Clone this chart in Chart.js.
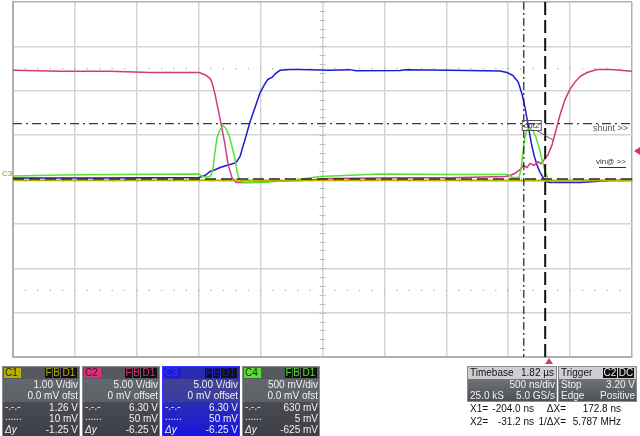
<!DOCTYPE html>
<html>
<head>
<meta charset="utf-8">
<script src="https://cdn.jsdelivr.net/npm/chart.js@4.4.0/dist/chart.umd.min.js"></script>
<style>
  html, body { margin: 0; padding: 0; background: #fff; }
</style>
</head>
<body>
<canvas id="scope" width="640" height="436"></canvas>
<script>
// time axis in ns relative to trigger, 500 ns/div, 10 div on screen
const X_MIN = -4330
const X_MAX = 670
const NS_PER_DIV = 500

// C1 yellow, 1 V/div
const c1Time = [-4330, -3500, -2800, -2500, -1800, -900, -300, 0, 300, 670]
const c1Volts = [-0.02, -0.02, -0.02, -0.03, -0.02, -0.02, -0.03, -0.03, -0.02, -0.02]

// C2 pink, 5 V/div
const c2Time = [-4330, -3950, -3546, -3223, -2827, -2779, -2738, -2722, -2698, -2657, -2617, -2593, -2561, -2528,
  -2415, -2254, -2011, -1769, -1204, -800, -355, -315, -275, -234, -210, -178, -153, -121, -89, -65, -32, -8,
  24, 57, 89, 129, 170, 210, 250, 307, 388, 493, 574, 670]
const c2Volts = [12.3, 12.2, 12.2, 12.05, 12.05, 11.8, 11.4, 10.9, 9.6, 6.8, 3.9, 1.7, 0.2, -0.35,
  -0.35, -0.2, -0.1, 0.1, 0.2, 0.2, 0.35, 0.45, 0.7, 1.1, 1.6, 1.35, 1.8, 1.6, 2.0, 1.8, 2.35, 2.8,
  3.9, 5.6, 7.3, 9.0, 10.2, 11.0, 11.6, 12.05, 12.4, 12.4, 12.3, 12.2]

// C3 blue, 5 V/div
const c3Time = [-4330, -3627, -2827, -2779, -2738, -2698, -2657, -2577, -2528, -2496, -2456, -2415, -2375, -2334,
  -2294, -2270, -2238, -2213, -2173, -2092, -2011, -1769, -1608, -1560, -1204, -1160, -800, -396, -339, -291,
  -250, -218, -194, -170, -145, -121, -97, -73, -48, -24, 8, 250, 372, 493, 670]
const c3Volts = [0.17, 0.17, 0.23, 0.45, 0.9, 1.1, 1.35, 1.7, 1.9, 2.6, 4.5, 6.5, 8.1, 9.8,
  10.8, 11.3, 11.5, 11.9, 12.3, 12.4, 12.4, 12.3, 12.38, 12.26, 12.28, 12.36, 12.3, 12.22, 12.05, 11.7,
  11.0, 9.6, 8.1, 6.2, 4.2, 2.7, 1.6, 0.8, 0.23, -0.23, -0.34, -0.34, -0.23, -0.11, -0.11]

// C4 green, 500 mV/div
const c4Time = [-4330, -3950, -3466, -2827, -2803, -2755, -2730, -2714, -2698, -2682, -2657, -2633, -2609, -2585,
  -2561, -2536, -2520, -2504, -2480, -2334, -2092, -1850, -1365, -800, -331, -299, -242, -226, -210, -194,
  -178, -153, -129, -105, -81, -57, -32, -8, 24, 250, 670]
const c4Volts = [0.039, 0.051, 0.056, 0.062, 0.034, 0.028, 0.045, 0.135, 0.315, 0.473, 0.563, 0.608, 0.574, 0.495,
  0.372, 0.225, 0.09, 0.011, -0.034, -0.034, -0.011, 0.034, 0.062, 0.056, 0.056, 0.023, 0.023, 0.113, 0.315, 0.484,
  0.563, 0.574, 0.552, 0.473, 0.36, 0.225, 0.09, 0, -0.023, -0.011, -0.011]

// channel panel texts
const chanNames = ['C1', 'C2', 'C3', 'C4']
const chanColors = ['#b8b000', '#d8307c', '#1c1cd0', '#58e030']
const chanVdiv = [1, 5, 5, 0.5]
const chanScale = ['1.00 V/div', '5.00 V/div', '5.00 V/div', '500 mV/div']
const chanOffset = ['0.0 mV ofst', '0 mV offset', '0 mV offset', '0.0 mV ofst']
const chanCur1 = ['1.26 V', '6.30 V', '6.30 V', '630 mV']
const chanCur2 = ['10 mV', '50 mV', '50 mV', '5 mV']
const chanDy = ['-1.25 V', '-6.25 V', '-6.25 V', '-625 mV']

// cursors
const cursorX1 = -204.0
const cursorX2 = -31.2
const cursorY1 = 1.26 // on C1
const cursorY2 = 0.01 // on C1
const trigLevel = 3.20 // on C2

const xGrid = []
for (let k = 0; k <= 10; k++) xGrid.push(X_MIN + k * NS_PER_DIV)

const pts = (t, v) => t.map((x, i) => ({ x: x, y: v[i] }))

function yAxis(vdiv, show) {
  return {
    type: 'linear',
    display: show,
    position: 'left',
    min: -4 * vdiv,
    max: 4 * vdiv,
    ticks: { display: false, stepSize: vdiv },
    grid: {
      color: ctx => (ctx.tick && (ctx.tick.value === 4 * vdiv) ? '#b0b0b0' : '#d4d4d4'),
      lineWidth: 1.5,
      drawTicks: false
    },
    border: { display: true, color: '#b0b0b0', width: 2 }
  }
}

const scopeOverlay = {
  id: 'scopeOverlay',
  beforeDatasetsDraw(chart) {
    const { ctx, chartArea: a, scales } = chart
    const x = scales.x
    const y = scales.yC2
    ctx.save()
    // dotted lines at +-2.5 div
    ctx.fillStyle = '#b4b4b4'
    ;[12.5, -12.5].forEach(v => {
      const py = y.getPixelForValue(v)
      for (let k = 1; k < 50; k++) {
        const px = x.getPixelForValue(X_MIN + k * 100)
        ctx.fillRect(px - 0.6, py - 0.6, 1.3, 1.3)
      }
    })
    // minor ticks on the centre lines
    const cx = x.getPixelForValue(X_MIN + 5 * NS_PER_DIV)
    const cy = y.getPixelForValue(0)
    ctx.strokeStyle = '#bdbdbd'
    ctx.lineWidth = 1
    ctx.beginPath()
    for (let k = 0; k <= 50; k++) {
      const px = Math.round(x.getPixelForValue(X_MIN + k * 100)) + 0.5
      ctx.moveTo(px, cy - 2)
      ctx.lineTo(px, cy + 2.5)
    }
    for (let k = -20; k <= 20; k++) {
      const py = Math.round(y.getPixelForValue(k)) + 0.5
      ctx.moveTo(cx - 3, py)
      ctx.lineTo(cx + 3, py)
    }
    ctx.stroke()
    ctx.restore()
  },
  afterDatasetsDraw(chart) {
    const { ctx, chartArea: a, scales } = chart
    const x = scales.x
    const y1 = scales.yC1
    ctx.save()
    // horizontal cursors
    let py = y1.getPixelForValue(cursorY1)
    ctx.strokeStyle = '#3a3a3a'
    ctx.lineWidth = 1.3
    ctx.setLineDash([9, 4, 2, 4])
    ctx.beginPath(); ctx.moveTo(a.left, py); ctx.lineTo(a.right, py); ctx.stroke()
    py = y1.getPixelForValue(cursorY2)
    ctx.strokeStyle = '#2a2a2a'
    ctx.lineWidth = 1.6
    ctx.setLineDash([11, 5])
    ctx.beginPath(); ctx.moveTo(a.left, py); ctx.lineTo(a.right, py); ctx.stroke()
    // vertical cursors
    let px = x.getPixelForValue(cursorX1)
    ctx.strokeStyle = '#222'
    ctx.lineWidth = 1.2
    ctx.setLineDash([8, 3, 2, 3])
    ctx.beginPath(); ctx.moveTo(px, a.top); ctx.lineTo(px, a.bottom); ctx.stroke()
    px = x.getPixelForValue(cursorX2)
    ctx.strokeStyle = '#111'
    ctx.lineWidth = 2
    ctx.setLineDash([13, 5])
    ctx.beginPath(); ctx.moveTo(px, a.top); ctx.lineTo(px, a.bottom); ctx.stroke()
    ctx.setLineDash([])

    // trace labels
    ctx.font = "9px 'Liberation Sans', Arial, sans-serif"
    ctx.fillStyle = '#555'
    ctx.textBaseline = 'middle'
    ctx.textAlign = 'right'
    ctx.fillText('shunt >>', a.right - 4, 129)
    ctx.font = "8px 'Liberation Sans', Arial, sans-serif"
    ctx.fillStyle = '#333'
    ctx.fillText('vin@ >>', a.right - 6, 162)
    ctx.fillRect(a.right - 33, 167, 27, 1)
    // out2 tag with leader
    const ox = x.getPixelForValue(-180)
    ctx.textAlign = 'left'
    ctx.fillStyle = '#333'
    ctx.fillText('out2', ox - 3, 126)
    ctx.strokeStyle = '#555'
    ctx.lineWidth = 1
    ctx.strokeRect(ox - 4.5, 120.5, 19, 10)
    ctx.beginPath(); ctx.moveTo(ox + 10, 130.5); ctx.lineTo(a.right - 79, 140); ctx.stroke()
    // C ground label
    ctx.fillStyle = '#9a9a00'
    ctx.font = "8px 'Liberation Sans', Arial, sans-serif"
    ctx.fillText('C3', 2, 174)
    ctx.restore()
  },
  afterDraw(chart) {
    const { ctx, chartArea: a, scales } = chart
    ctx.save()
    // trigger markers
    const tx = scales.x.getPixelForValue(0)
    const ty = scales.yC2.getPixelForValue(trigLevel)
    ctx.fillStyle = '#d8307c'
    ctx.beginPath(); ctx.moveTo(tx, a.bottom + 1); ctx.lineTo(tx - 4, a.bottom + 7); ctx.lineTo(tx + 4, a.bottom + 7); ctx.fill()
    ctx.beginPath(); ctx.moveTo(a.right + 2, ty); ctx.lineTo(a.right + 8, ty - 4); ctx.lineTo(a.right + 8, ty + 4); ctx.fill()

    const font = "10px 'Liberation Sans', Arial, sans-serif"
    // channel boxes
    chanNames.forEach((name, i) => {
      const bx = 2 + i * 80
      const top = 366
      const w = 78
      const blue = i === 2
      let g = ctx.createLinearGradient(0, top, 0, 436)
      if (blue) {
        g.addColorStop(0, '#45468a'); g.addColorStop(0.5, '#3a3ca0'); g.addColorStop(1, '#1818f0')
      } else {
        g.addColorStop(0, '#6a6c74'); g.addColorStop(0.5, '#5e6068'); g.addColorStop(1, '#4a4c54')
      }
      ctx.fillStyle = g
      ctx.fillRect(bx, top, w, 70)
      // header strip
      ctx.fillStyle = blue ? '#2a2bb0' : '#56585f'
      ctx.fillRect(bx, top, w, 13)
      // lower darker band
      ctx.fillStyle = blue ? 'rgba(20,20,200,0.35)' : 'rgba(40,40,46,0.35)'
      ctx.fillRect(bx, 402, w, 34)
      ctx.strokeStyle = blue ? '#3535ff' : '#8a8c94'
      ctx.lineWidth = 1
      ctx.strokeRect(bx + 0.5, top + 0.5, w - 1, 70)
      // name badge
      ctx.fillStyle = chanColors[i]
      ctx.fillRect(bx + 2, top + 2, 17, 10)
      ctx.fillStyle = blue ? '#3a3aff' : '#222'
      ctx.font = font
      ctx.textAlign = 'left'
      ctx.textBaseline = 'middle'
      ctx.fillText(name, bx + 3, top + 7.5)
      // F B D1 badges
      const badges = [['F', 43, 7], ['B', 51, 7], ['D1', 59, 16]]
      badges.forEach(b => {
        ctx.fillStyle = '#111'
        ctx.fillRect(bx + b[1], top + 2, b[2], 10)
        ctx.fillStyle = chanColors[i]
        ctx.textAlign = 'center'
        ctx.fillText(b[0], bx + b[1] + b[2] / 2, top + 7.5)
      })
      // rows
      ctx.fillStyle = '#f2f2f2'
      ctx.textAlign = 'right'
      const rx = bx + w - 2
      ctx.fillText(chanScale[i], rx, 385)
      ctx.fillText(chanOffset[i], rx, 396.5)
      ctx.fillText(chanCur1[i], rx, 408)
      ctx.fillText(chanCur2[i], rx, 419)
      ctx.fillText(chanDy[i], rx, 430)
      ctx.textAlign = 'left'
      ctx.fillText('-.-.-', bx + 3, 407)
      ctx.fillText('......', bx + 3, 417)
      ctx.font = "italic 10px 'Liberation Sans', Arial, sans-serif"
      ctx.fillText('\u0394y', bx + 3, 430)
    })

    // timebase & trigger boxes
    const boxes = [
      { x: 467, w: 90, head: ['Timebase', '1.82 \u00b5s'], rows: [['', '500 ns/div'], ['25.0 kS', '5.0 GS/s']] },
      { x: 558, w: 79, head: ['Trigger', ''], rows: [['Stop', '3.20 V'], ['Edge', 'Positive']] }
    ]
    boxes.forEach((b, j) => {
      const top = 366
      const g = ctx.createLinearGradient(0, top + 12, 0, 402)
      g.addColorStop(0, '#72747c'); g.addColorStop(1, '#4c4e56')
      ctx.fillStyle = g
      ctx.fillRect(b.x, top, b.w, 36)
      ctx.fillStyle = '#cfcfd2'
      ctx.fillRect(b.x + 1, top + 1, b.w - 2, 12)
      ctx.strokeStyle = '#8a8c94'
      ctx.strokeRect(b.x + 0.5, top + 0.5, b.w - 1, 35)
      ctx.font = font
      ctx.textBaseline = 'middle'
      ctx.fillStyle = '#111'
      ctx.textAlign = 'left'
      ctx.fillText(b.head[0], b.x + 3, top + 7.5)
      ctx.textAlign = 'right'
      ctx.fillText(b.head[1], b.x + b.w - 3, top + 7.5)
      if (j === 1) {
        ctx.fillStyle = '#111'
        ctx.fillRect(b.x + 45, top + 2, 14, 10)
        ctx.fillRect(b.x + 60, top + 2, 16, 10)
        ctx.fillStyle = '#eee'
        ctx.textAlign = 'center'
        ctx.fillText('C2', b.x + 52, top + 7.5)
        ctx.fillText('DC', b.x + 68, top + 7.5)
      }
      ctx.fillStyle = '#f2f2f2'
      b.rows.forEach((r, k) => {
        const ry = 385 + k * 11.5
        ctx.textAlign = 'left'
        ctx.fillText(r[0], b.x + 3, ry)
        ctx.textAlign = 'right'
        ctx.fillText(r[1], b.x + b.w - 2, ry)
      })
    })

    // cursor readout
    ctx.fillStyle = '#111'
    ctx.font = font
    ctx.textBaseline = 'middle'
    const dx = cursorX2 - cursorX1
    ctx.textAlign = 'left'
    ctx.fillText('X1=', 470, 409)
    ctx.fillText('X2=', 470, 422)
    ctx.textAlign = 'right'
    ctx.fillText(cursorX1.toFixed(1) + ' ns', 534, 409)
    ctx.fillText(cursorX2.toFixed(1) + ' ns', 534, 422)
    ctx.fillText('\u0394X=', 566, 409)
    ctx.fillText('1/\u0394X=', 566, 422)
    ctx.fillText(dx.toFixed(1) + ' ns', 621, 409)
    ctx.fillText((1000 / dx).toFixed(3) + ' MHz', 621, 422)
    ctx.restore()
  }
}

const line = (data, color, axis) => ({
  data: data,
  yAxisID: axis,
  borderColor: color,
  borderWidth: 1.5,
  pointRadius: 0,
  tension: 0,
  fill: false
})

new Chart(document.getElementById('scope'), {
  type: 'line',
  data: {
    datasets: [
      line(pts(c1Time, c1Volts), '#b8b000', 'yC1'),
      line(pts(c4Time, c4Volts), '#58e030', 'yC4'),
      line(pts(c2Time, c2Volts), '#d03a80', 'yC2'),
      line(pts(c3Time, c3Volts), '#1c1cd0', 'yC3')
    ]
  },
  options: {
    responsive: false,
    animation: false,
    layout: { padding: { left: 13, right: 8, top: 2, bottom: 79 } },
    plugins: { legend: { display: false }, tooltip: { enabled: false } },
    scales: {
      x: {
        type: 'linear',
        min: X_MIN,
        max: X_MAX,
        afterBuildTicks: s => { s.ticks = xGrid.map(v => ({ value: v })) },
        ticks: { display: false },
        grid: {
          color: ctx => (ctx.tick && ctx.tick.value === X_MAX ? '#b0b0b0' : '#d4d4d4'),
          lineWidth: 1.5,
          drawTicks: false
        },
        border: { display: true, color: '#b0b0b0', width: 2 }
      },
      yC2: yAxis(chanVdiv[1], true),
      yC1: yAxis(chanVdiv[0], false),
      yC3: yAxis(chanVdiv[2], false),
      yC4: yAxis(chanVdiv[3], false)
    }
  },
  plugins: [scopeOverlay]
})
</script>
</body>
</html>
